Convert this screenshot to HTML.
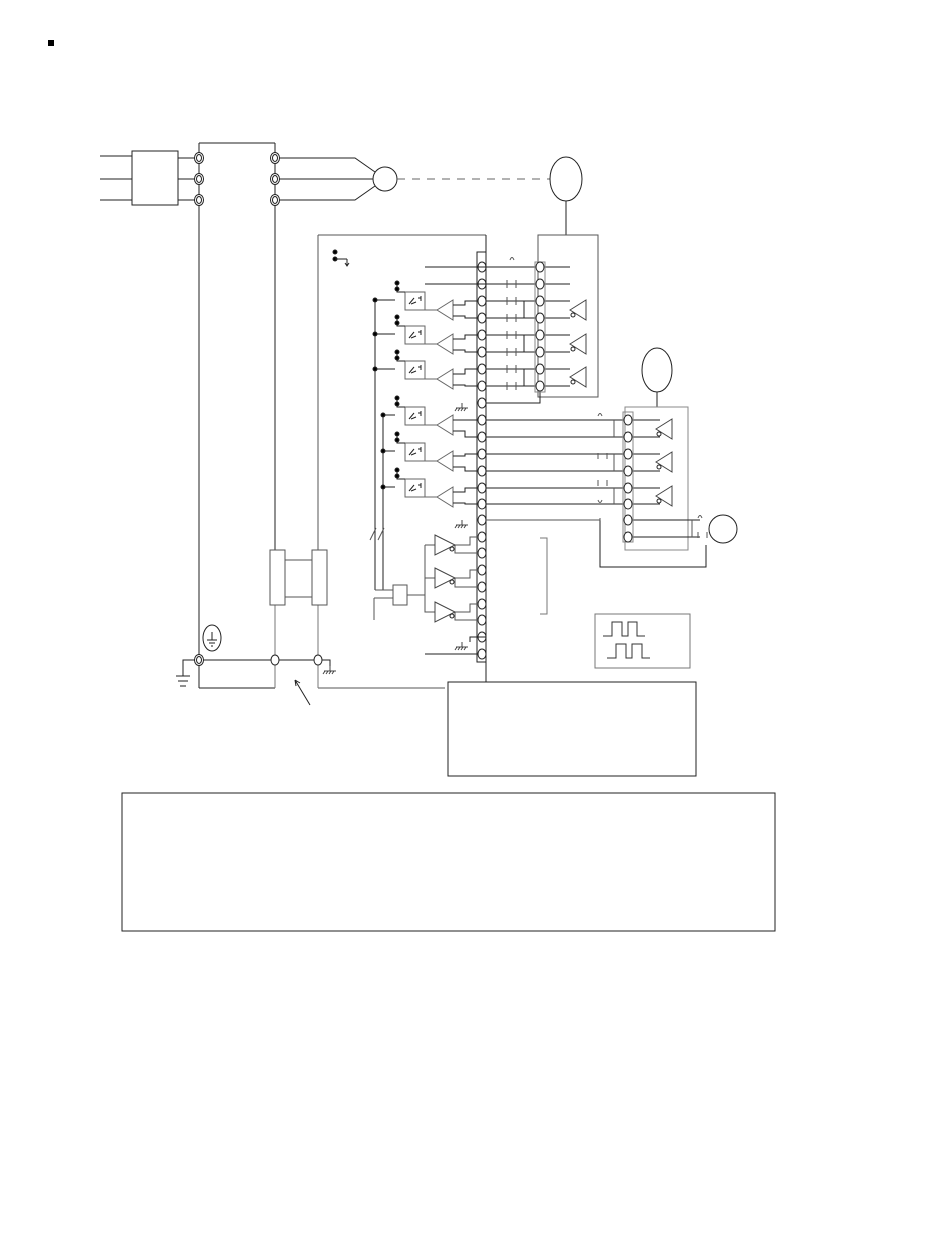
<!DOCTYPE html>
<html><head><meta charset="utf-8"><style>
html,body{margin:0;padding:0;background:#fff;width:950px;height:1260px;overflow:hidden}
svg{display:block}
</style></head><body>
<svg width="950" height="1260" viewBox="0 0 950 1260" xmlns="http://www.w3.org/2000/svg" fill="none" stroke="#222" stroke-width="1">
<defs>
<ellipse id="t" cx="0" cy="0" rx="4" ry="5" fill="#fff"/>
<g id="tt"><ellipse cx="0" cy="0" rx="4.5" ry="5.5" fill="#fff"/><ellipse cx="0" cy="0" rx="2.5" ry="3.5"/></g>
<g id="opto"><rect x="0" y="0" width="20" height="18" fill="#fff" stroke="#666"/><path d="M4 12 L9 6 M6 12 L11 10 M13 6 L16 6 M16 4 L16 9" stroke="#222"/><path d="M-8 -9 L-8 0 L0 0" stroke="#222"/><circle cx="-8" cy="-9" r="2" fill="#000"/><circle cx="-8" cy="-3" r="2" fill="#000"/></g>
<g id="amp"><path d="M0 0 L16 -10 L16 10 Z" fill="#fff" stroke="#666"/></g>
<g id="drv"><path d="M0 0 L16 -10 L16 10 Z" fill="#fff" stroke="#444"/><circle cx="3" cy="5" r="2"/></g>
<g id="gnd"><path d="M0 0 V5 M-6 5 H6 M-5 5 l-2 3 M-2 5 l-2 3 M1 5 l-2 3 M4 5 l-2 3" stroke="#444"/></g>
<g id="buf"><path d="M0 -10 L20 0 L0 10 Z" fill="#fff" stroke="#444"/><circle cx="17" cy="4" r="2"/></g>
</defs>
<rect x="48" y="40" width="6" height="6" fill="#000" stroke="none"/>
<!-- input -->
<path d="M100 156 H132 M100 179 H132 M100 200 H132 M178 158 H195 M178 179 H195 M178 200 H195"/>
<rect x="132" y="151" width="46" height="54"/>
<path d="M199 143 H275 M199 143 V688 M275 143 V688 M199 688 H275"/>
<use href="#tt" x="199" y="158"/><use href="#tt" x="199" y="179"/><use href="#tt" x="199" y="200"/>
<use href="#tt" x="275" y="158"/><use href="#tt" x="275" y="179"/><use href="#tt" x="275" y="200"/>
<path d="M279 158 H355 L375 172 M279 179 H373 M279 200 H355 L375 186"/>
<circle cx="385" cy="179" r="12" fill="#fff"/>
<path d="M397 179 H550" stroke-dasharray="8 7" stroke="#666"/>
<ellipse cx="566" cy="179" rx="16" ry="22"/>
<path d="M566 201 V235"/>
<rect x="538" y="235" width="60" height="162" stroke="#555"/>
<!-- controller -->
<path d="M318 235 H486 M318 235 V688 M318 688 H445" stroke="#555"/>
<path d="M486 235 V688"/>
<rect x="477" y="252" width="9" height="410"/>
<circle cx="335" cy="252" r="2" fill="#000"/><circle cx="335" cy="259" r="2" fill="#000"/><path d="M335 259 H347 M347 259 V266 M345 263 L347 266 L349 263"/>
<!-- strip circles -->
<g>
<use href="#t" x="482" y="267"/><use href="#t" x="482" y="284"/><use href="#t" x="482" y="301"/><use href="#t" x="482" y="318"/><use href="#t" x="482" y="335"/><use href="#t" x="482" y="352"/><use href="#t" x="482" y="369"/><use href="#t" x="482" y="386"/><use href="#t" x="482" y="403"/><use href="#t" x="482" y="420"/><use href="#t" x="482" y="437"/><use href="#t" x="482" y="454"/><use href="#t" x="482" y="471"/><use href="#t" x="482" y="488"/><use href="#t" x="482" y="504"/><use href="#t" x="482" y="520"/><use href="#t" x="482" y="537"/><use href="#t" x="482" y="553"/><use href="#t" x="482" y="570"/><use href="#t" x="482" y="587"/><use href="#t" x="482" y="604"/><use href="#t" x="482" y="620"/><use href="#t" x="482" y="637"/><use href="#t" x="482" y="654"/>
</g>
<!-- encoder 1 lines -->
<path d="M425 267 H570 M425 284 H570 M486 301 H570 M486 318 H570 M486 335 H570 M486 352 H570 M486 369 H570 M486 386 H570 M486 403 H540 V392"/>
<rect x="535" y="262" width="10" height="130" stroke="#888"/>
<use href="#t" x="540" y="267"/><use href="#t" x="540" y="284"/><use href="#t" x="540" y="301"/><use href="#t" x="540" y="318"/><use href="#t" x="540" y="335"/><use href="#t" x="540" y="352"/><use href="#t" x="540" y="369"/><use href="#t" x="540" y="386"/>
<path d="M510 260 q2 -5 4 0 M507 280 v8 M516 280 v8 M507 297 v8 M516 297 v8 M507 314 v8 M516 314 v8 M507 331 v8 M516 331 v8 M507 348 v8 M516 348 v8 M507 365 v8 M516 365 v8 M507 382 v8 M516 382 v8" stroke="#555"/>
<path d="M524 301 V318 M524 335 V352 M524 369 V386"/>
<use href="#drv" x="570" y="310"/><use href="#drv" x="570" y="344"/><use href="#drv" x="570" y="377"/>
<!-- encoder 2 -->
<ellipse cx="657" cy="370" rx="15" ry="22"/>
<path d="M657 392 V407"/>
<rect x="625" y="407" width="63" height="143" stroke="#888"/>
<path d="M486 403 H500"/><use href="#gnd" x="462" y="403"/>
<path d="M486 420 H660 M486 437 H660 M486 454 H660 M486 471 H660 M486 488 H660 M486 504 H660 M486 520 H600 V567 H706 V545 M632 520 H700 M632 537 H700"/>
<rect x="623" y="412" width="10" height="130" stroke="#888"/>
<use href="#t" x="628" y="420"/><use href="#t" x="628" y="437"/><use href="#t" x="628" y="454"/><use href="#t" x="628" y="471"/><use href="#t" x="628" y="488"/><use href="#t" x="628" y="504"/><use href="#t" x="628" y="520"/><use href="#t" x="628" y="537"/>
<path d="M614 420 V437 M614 454 V471 M614 488 V504 M692 520 V537 M598 416 q2 -5 4 0 M598 453 v6 M607 453 v6 M598 480 v6 M607 480 v6 M598 500 q2 5 4 0 M486 520 H600 V518 M698 518 q2 -5 4 0 M698 532 v6 M707 532 v6" stroke="#555"/>
<use href="#drv" x="656" y="429"/><use href="#drv" x="656" y="462"/><use href="#drv" x="656" y="496"/>
<circle cx="723" cy="529" r="14"/>
<!-- optos & amps -->
<path d="M375 300 V590 M383 415 V590 M375 300 H395 M375 334 H395 M375 369 H395 M383 415 H395 M383 451 H395 M383 487 H395"/>
<circle cx="375" cy="300" r="2" fill="#000"/><circle cx="375" cy="334" r="2" fill="#000"/><circle cx="375" cy="369" r="2" fill="#000"/>
<circle cx="383" cy="415" r="2" fill="#000"/><circle cx="383" cy="451" r="2" fill="#000"/><circle cx="383" cy="487" r="2" fill="#000"/>
<use href="#opto" x="405" y="292"/><use href="#opto" x="405" y="326"/><use href="#opto" x="405" y="361"/>
<use href="#opto" x="405" y="407"/><use href="#opto" x="405" y="443"/><use href="#opto" x="405" y="479"/>
<path d="M425 310 H437 M425 344 H437 M425 379 H437 M425 425 H437 M425 461 H437 M425 497 H437" stroke="#666"/>
<use href="#amp" x="437" y="310"/><use href="#amp" x="437" y="344"/><use href="#amp" x="437" y="379"/>
<use href="#amp" x="437" y="425"/><use href="#amp" x="437" y="461"/><use href="#amp" x="437" y="497"/>
<path d="M453 305 H465 V301 H478 M453 316 H465 V318 H478 M453 339 H465 V335 H478 M453 350 H465 V352 H478 M453 374 H465 V369 H478 M453 385 H465 V386 H478 M453 420 H465 V420 H478 M453 431 H465 V437 H478 M453 456 H465 V454 H478 M453 467 H465 V471 H478 M453 492 H465 V488 H478 M453 503 H465 V504 H478"/>
<path d="M370 540 l6 -12 M378 540 l6 -12" stroke="#555"/>
<use href="#gnd" x="462" y="520"/>
<!-- lower section -->
<path d="M375 590 H393 M374 598 V620 M374 598 H393 M407 595 H425 M425 545 V612 H435 M425 545 H435 M425 578 H435 M455 545 H470 V537 H478 M455 545 V553 H478 M455 578 H470 V570 H478 M455 578 V587 H478 M455 612 H470 V604 H478 M455 612 V620 H478" stroke="#555"/>
<rect x="393" y="585" width="14" height="20" stroke="#555"/>
<use href="#buf" x="435" y="545"/><use href="#buf" x="435" y="578"/><use href="#buf" x="435" y="612"/>
<path d="M486 637 H470 V642"/><use href="#gnd" x="462" y="642"/>
<path d="M425 654 H478"/>
<path d="M540 538 H547 V614 H540" stroke="#777"/>
<!-- pulse box -->
<rect x="595" y="614" width="95" height="54" stroke="#777"/>
<path d="M603 636 H612 V622 H622 V636 H628 V622 H637 V636 H645 M607 658 H616 V644 H626 V658 H632 V644 H642 V658 H650" stroke="#333"/>
<!-- left lower -->
<path d="M275 550 V688 M318 550 V688" stroke="#777"/>
<rect x="270" y="550" width="15" height="55" fill="#fff" stroke="#555"/>
<rect x="312" y="550" width="15" height="55" fill="#fff" stroke="#555"/>
<path d="M285 560 H312 M285 597 H312" stroke="#555"/>
<ellipse cx="212" cy="638" rx="9" ry="13"/><path d="M212 632 V640 M207 640 H217 M209 643 H215 M211 646 H213"/>
<path d="M199 660 H318 M318 660 H330 V668"/><use href="#gnd" x="330" y="666"/>
<use href="#tt" x="199" y="660"/><use href="#t" x="275" y="660"/><use href="#t" x="318" y="660"/>
<path d="M195 660 H183 V676 M176 676 H190 M178 681 H188 M180 686 H186"/>
<path d="M310 705 L295 680 M295 680 l1 6 M295 680 l5 3"/>
<!-- boxes -->
<rect x="448" y="682" width="248" height="94" fill="#fff"/>
<rect x="122" y="793" width="653" height="138"/>
</svg>
</body></html>
